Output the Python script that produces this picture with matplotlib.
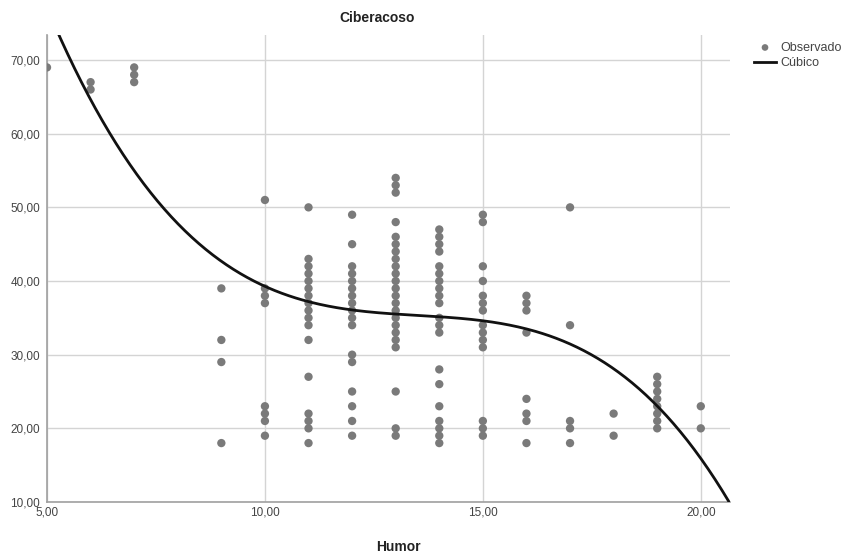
import numpy as np
import matplotlib
matplotlib.use("Agg")
import matplotlib.pyplot as plt
from matplotlib.ticker import FuncFormatter

plt.rcParams['font.family'] = ['Liberation Sans', 'DejaVu Sans']

# Observed points: (Humor value, list of Ciberacoso values)
humor_levels = [5, 6, 7, 9, 10, 11, 12, 13, 14, 15, 16, 17, 18, 19, 20]
ciber_values = [
    [69],
    [66, 67],
    [67, 68, 69],
    [39, 32, 29, 18],
    [51, 39, 38, 37, 23, 22, 21, 19],
    [50, 43, 42, 41, 40, 39, 38, 37, 36, 35, 34, 32, 27, 22, 21, 20, 18],
    [49, 45, 42, 41, 40, 39, 38, 37, 36, 35, 34, 30, 29, 25, 23, 21, 19],
    [54, 53, 52, 48, 46, 45, 44, 43, 42, 41, 40, 39, 38, 37, 36, 35, 34, 33, 32, 31, 25, 20, 19],
    [47, 46, 45, 44, 42, 41, 40, 39, 38, 37, 35, 34, 33, 28, 26, 23, 21, 20, 19, 18],
    [49, 48, 42, 40, 38, 37, 36, 34, 33, 32, 31, 21, 20, 19],
    [38, 37, 36, 33, 24, 22, 21, 18],
    [50, 34, 21, 20, 18],
    [22, 19],
    [27, 26, 25, 24, 23, 22, 21, 20],
    [23, 20],
]

# Cubic curve points (used for a cubic fit)
curve_x = [5.2, 6, 7, 10, 11, 12, 13, 14, 15, 16, 17, 18, 19, 20, 20.67]
curve_y = [73.4, 65.9, 55.0, 39.2, 37.0, 35.9, 35.4, 35.1, 34.5, 33.7, 32.0, 28.0, 23.0, 15.5, 10.0]

x_ticks = [5, 10, 15, 20]
y_ticks = [10, 20, 30, 40, 50, 60, 70]

xs = []
ys = []
for h, vals in zip(humor_levels, ciber_values):
    for v in vals:
        xs.append(h)
        ys.append(v)

fig = plt.figure(figsize=(8.57, 5.60), dpi=100)
ax = fig.add_axes([47/857, 1-502/560, (730-47)/857, (502-35)/560])

ax.scatter(xs, ys, s=36, color='#7a7a7a', edgecolors='none', zorder=3,
           label='Observado', clip_on=True)

coef = np.polyfit(curve_x, curve_y, 3)
xx = np.linspace(5.0, 20.8, 400)
ax.plot(xx, np.polyval(coef, xx), color='#111111', lw=2.0, zorder=4, label='Cúbico')

ax.set_xlim(5.0, 20.67)
ax.set_ylim(10.0, 73.4)
ax.set_xticks(x_ticks)
ax.set_yticks(y_ticks)
fmt = FuncFormatter(lambda v, p: f"{v:.2f}".replace('.', ','))
ax.xaxis.set_major_formatter(fmt)
ax.yaxis.set_major_formatter(fmt)
ax.tick_params(axis='y', length=0, labelsize=8.5, colors='#444444', pad=5)
ax.tick_params(axis='x', length=0, labelsize=8.5, colors='#444444', pad=3)
ax.grid(True, color='#d4d4d4', lw=1.0, zorder=0)
ax.set_axisbelow(True)
for s in ['top', 'right']:
    ax.spines[s].set_visible(False)
for s in ['left', 'bottom']:
    ax.spines[s].set_color('#a0a0a0')
    ax.spines[s].set_linewidth(1.2)

fig.text(377/857, 1-18/560, 'Ciberacoso', ha='center', va='center',
         fontsize=10, fontweight='bold', color='#222222')
fig.text(398/857, 1-547/560, 'Humor', ha='center', va='center',
         fontsize=10, fontweight='bold', color='#222222')

leg = fig.legend(loc='upper left', bbox_to_anchor=(745/857, 1-33/560),
                 frameon=False, fontsize=9, handlelength=1.8,
                 handletextpad=0.3, labelspacing=0.25, borderpad=0.2,
                 markerscale=0.8)
for t in leg.get_texts():
    t.set_color('#444444')

fig.savefig('out.png', dpi=100)
